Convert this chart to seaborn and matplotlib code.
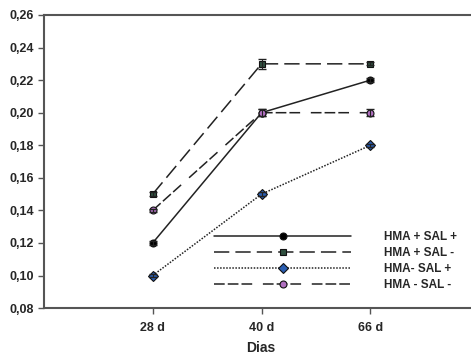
import numpy as np
import pandas as pd
import seaborn as sns
import matplotlib.pyplot as plt
from matplotlib.lines import Line2D

days = ["28 d", "40 d", "66 d"]
labels = ["HMA + SAL +", "HMA + SAL -", "HMA- SAL +", "HMA - SAL -"]
hma_sal_pos = [0.12, 0.20, 0.22]
hma_sal_neg = [0.15, 0.23, 0.23]
nohma_sal_pos = [0.10, 0.15, 0.18]
nohma_sal_neg = [0.14, 0.20, 0.20]
err_hma_sal_pos = [0.001, 0.002, 0.001]
err_hma_sal_neg = [0.001, 0.003, 0.001]
err_nohma_sal_pos = [0.001, 0.001, 0.001]
err_nohma_sal_neg = [0.001, 0.002, 0.002]

sns.set_style("white")
plt.rcParams["font.family"] = ["Liberation Sans", "DejaVu Sans"]
plt.rcParams["font.weight"] = "bold"

fig = plt.figure(figsize=(4.71, 3.57), dpi=100)
ax = fig.add_axes([0.093, 0.137, 0.92, 0.821])

series = [
    (hma_sal_pos, err_hma_sal_pos, "-", "o", "black"),
    (hma_sal_neg, err_hma_sal_neg, (0, (10, 4)), "s", "#2f4f3f"),
    (nohma_sal_pos, err_nohma_sal_pos, (0, (1, 1)), "D", "#2a5db0"),
    (nohma_sal_neg, err_nohma_sal_neg, (0, (7, 2, 7, 2, 7, 7)), "o", "#b070c0"),
]
x = np.arange(len(days))
handles = []
for (vals, errs, ls, mk, fc), lab in zip(series, labels):
    df = pd.DataFrame({"x": x, "y": vals})
    sns.lineplot(data=df, x="x", y="y", ax=ax, color="#222222", linewidth=1.1,
                 linestyle=ls, marker=mk, markersize=5, markerfacecolor=fc,
                 markeredgecolor="#111111", markeredgewidth=0.8)
    ax.errorbar(x, vals, yerr=errs, fmt="none", ecolor="#222222",
                elinewidth=0.8, capsize=3)
    handles.append(Line2D([], [], color="#222222", linewidth=1.1, linestyle=ls,
                          marker=mk, markersize=5, markerfacecolor=fc,
                          markeredgecolor="#111111", markeredgewidth=0.8))

ax.set_xlim(-1, 2.98)
ax.set_ylim(0.08, 0.26)
ax.set_xticks(x)
ax.set_xticklabels(days)
yt = np.arange(0.08, 0.261, 0.02)
ax.set_yticks(yt)
ax.set_yticklabels([f"{v:.2f}".replace(".", ",") for v in yt])
ax.tick_params(axis="both", labelsize=9, direction="out", length=4,
               width=1, color="#555555", left=True, bottom=True, pad=3)
ax.tick_params(axis="x", pad=6)
ax.set_xlabel("Dias", fontsize=10, fontweight="bold", labelpad=5)
ax.set_ylabel("")
for s in ["left", "top", "bottom"]:
    ax.spines[s].set_color("#555555")
    ax.spines[s].set_linewidth(1.5)
ax.spines["right"].set_visible(False)

ax.legend(handles, labels, loc="lower right", bbox_to_anchor=(0.968, 0.037),
          frameon=False, fontsize=8.5, handlelength=11.6, numpoints=1,
          labelspacing=0.34, handletextpad=2.8, borderpad=0)

fig.savefig("out.png", dpi=100)
